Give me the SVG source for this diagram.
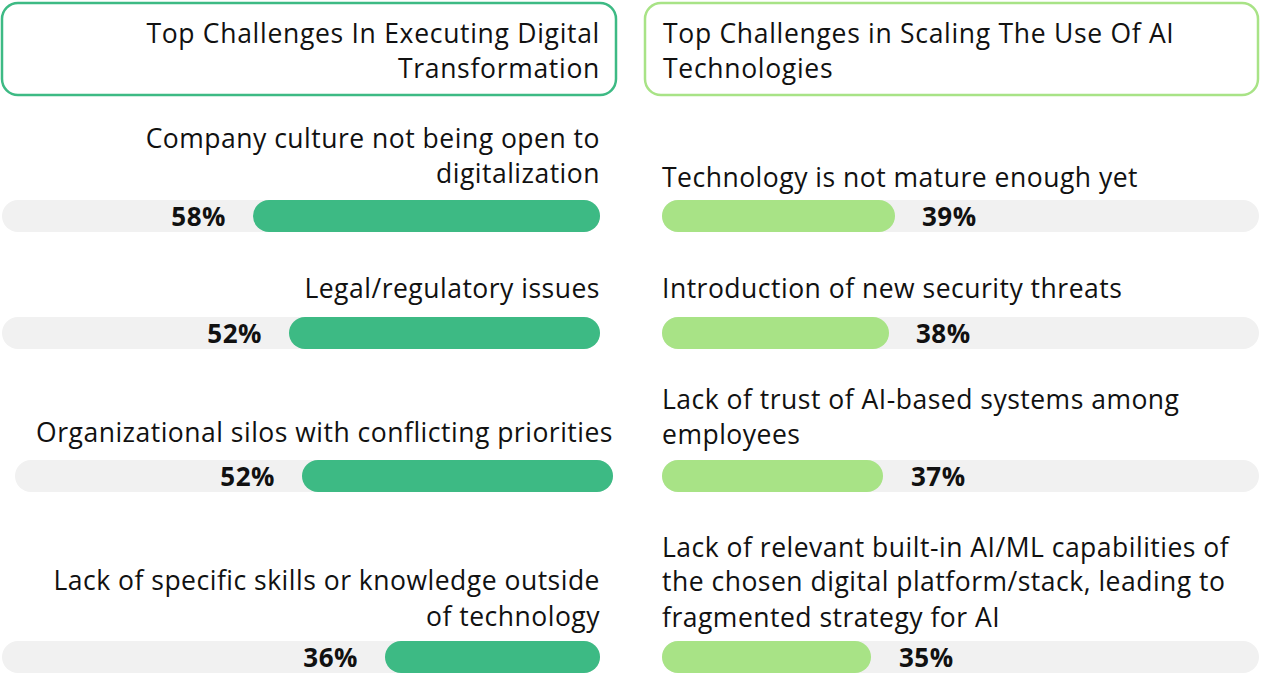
<svg xmlns="http://www.w3.org/2000/svg" width="1261" height="673" viewBox="0 0 1261 673">
<style>
.t{font-family:"Open Sans","Liberation Sans",Arial,sans-serif;font-size:26.5px;letter-spacing:0.5px;fill:#111}
.h{letter-spacing:0.7px}
.r{text-anchor:end}
.p{font-family:"Open Sans","Liberation Sans",Arial,sans-serif;font-size:26px;letter-spacing:0.5px;font-weight:bold;fill:#111}
.bg{fill:#f1f1f1}
.g1{fill:#3dba84}
.g2{fill:#a8e386}
</style>
<rect width="1261" height="673" fill="#fff"/>
<g id="header-left"><rect x="2" y="3" width="614" height="92" rx="16" fill="#fff" stroke="#3dba84" stroke-width="2.5"/>
<text class="t h r" x="600" y="43">Top Challenges In Executing Digital</text><text class="t h r" x="600" y="78">Transformation</text></g>
<g id="header-right"><rect x="645" y="3" width="613" height="92" rx="16" fill="#fff" stroke="#a8e386" stroke-width="2.5"/>
<text class="t h" x="663" y="43">Top Challenges in Scaling The Use Of AI</text><text class="t h" x="663" y="78">Technologies</text></g>
<g id="left-1"><text class="t r" x="600" y="148">Company culture not being open to</text><text class="t r" x="600" y="183">digitalization</text>
<rect class="bg" x="2" y="200" width="598" height="32" rx="16"/><rect class="g1" x="253" y="200" width="347" height="32" rx="16"/><text class="p r" x="226" y="226">58%</text></g>
<g id="left-2"><text class="t r" x="600" y="298">Legal/regulatory issues</text>
<rect class="bg" x="2" y="317" width="598" height="32" rx="16"/><rect class="g1" x="289" y="317" width="311" height="32" rx="16"/><text class="p r" x="262" y="343">52%</text></g>
<g id="left-3"><text class="t r" x="613" y="442">Organizational silos with conflicting priorities</text>
<rect class="bg" x="15" y="460" width="598" height="32" rx="16"/><rect class="g1" x="302" y="460" width="311" height="32" rx="16"/><text class="p r" x="275" y="486">52%</text></g>
<g id="left-4"><text class="t r" x="600" y="590">Lack of specific skills or knowledge outside</text><text class="t r" x="600" y="626">of technology</text>
<rect class="bg" x="2" y="641" width="598" height="32" rx="16"/><rect class="g1" x="385" y="641" width="215" height="32" rx="16"/><text class="p r" x="358" y="667">36%</text></g>
<g id="right-1"><text class="t" x="662" y="187">Technology is not mature enough yet</text>
<rect class="bg" x="662" y="200" width="597" height="32" rx="16"/><rect class="g2" x="662" y="200" width="233" height="32" rx="16"/><text class="p" x="922" y="226">39%</text></g>
<g id="right-2"><text class="t" x="662" y="298">Introduction of new security threats</text>
<rect class="bg" x="662" y="317" width="597" height="32" rx="16"/><rect class="g2" x="662" y="317" width="227" height="32" rx="16"/><text class="p" x="916" y="343">38%</text></g>
<g id="right-3"><text class="t" x="662" y="409">Lack of trust of AI-based systems among</text><text class="t" x="662" y="444">employees</text>
<rect class="bg" x="662" y="460" width="597" height="32" rx="16"/><rect class="g2" x="662" y="460" width="221" height="32" rx="16"/><text class="p" x="911" y="486">37%</text></g>
<g id="right-4"><text class="t" x="662" y="557">Lack of relevant built-in AI/ML capabilities of</text><text class="t" x="662" y="591">the chosen digital platform/stack, leading to</text><text class="t" x="662" y="627">fragmented strategy for AI</text>
<rect class="bg" x="662" y="641" width="597" height="32" rx="16"/><rect class="g2" x="662" y="641" width="209" height="32" rx="16"/><text class="p" x="899" y="667">35%</text></g>
<g id="connectors"/>
</svg>
